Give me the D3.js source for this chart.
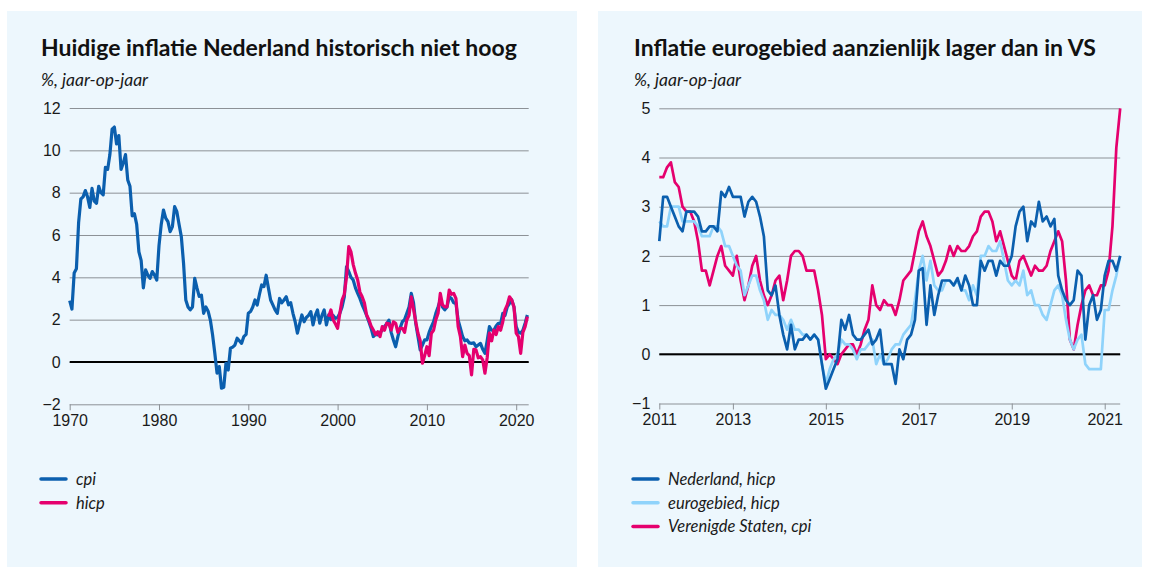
<!DOCTYPE html>
<html>
<head>
<meta charset="utf-8">
<script src="https://cdn.jsdelivr.net/npm/d3@7"></script>
<style>
  body { margin: 0; background: #fff; }
  svg { display: block; font-family: Lato, "Open Sans", sans-serif; }
  .grid line { stroke: #8c9196; stroke-width: 1; }
  .grid text, .xaxis text { fill: #1a1a1a; font-size: 16px; }
  .xaxis line { stroke: #8c9196; }
</style>
</head>
<body>
<svg width="1151" height="569"></svg>
<script>
// linker grafiek: kwartaalwaarden vanaf 1970
var cpiStart = 1970;
var cpi = [
  2.9, 2.5, 4.2, 4.4,   6.6, 7.7, 7.8, 8.1,   7.8, 7.3, 8.2, 7.6,   7.5, 8.3, 8.0, 7.9,
  9.2, 9.1, 9.8, 11.0,  11.1, 10.3, 10.7, 9.1, 9.4, 9.8, 8.6, 8.3,  6.9, 7.0, 6.5, 5.2,
  4.8, 3.5, 4.35, 4.1,  3.95, 4.27, 4.1, 3.87, 5.5, 6.5, 7.18, 6.8, 6.63, 6.16, 6.4, 7.34,
  7.1, 6.5, 5.92, 4.66, 2.93, 2.6, 2.46, 2.6, 3.95, 3.5, 3.1, 3.16, 2.3, 2.6, 2.4, 1.98,
  1.28, 0.41, -0.53, -0.22, -1.24, -1.2, -0.06, -0.38, 0.65, 0.7, 0.8, 1.12, 1.0, 0.88, 1.2, 1.3,
  2.3, 2.38, 2.6, 2.93, 2.69, 3.2, 3.64, 3.56, 4.1, 3.5, 2.93, 2.7, 2.46, 2.3, 3.0, 2.8,
  2.93, 3.08, 2.7, 2.8, 2.3, 1.9, 1.36, 1.8,  2.22, 1.9, 2.1, 2.2,  2.38, 1.75, 2.2, 2.46,
  1.83, 2.2, 2.46, 1.75, 2.22, 2.0, 2.2, 2.06, 2.1, 2.3, 2.6, 3.08, 4.5, 4.27, 4.0, 3.87,
  3.5, 3.24, 3.0, 2.7,  2.46, 2.2, 1.9, 1.6,  1.2, 1.3, 1.28, 1.4,  1.5, 1.67, 1.8, 1.98,
  1.4, 1.04, 0.72, 1.2, 1.6, 1.9, 2.0, 2.3,   2.6, 3.24, 2.8, 1.83,  1.2, 0.57, 0.8, 1.04,
  1.04, 1.4, 1.67, 1.9, 2.3, 2.6, 2.93, 2.6,  2.46, 2.6, 3.08, 3.0,  2.8, 2.77, 1.98, 1.6,
  1.2, 1.0, 1.04, 0.9,  0.88, 0.9, 0.72, 0.8, 0.88, 0.6, 0.41, 1.0,  1.67, 1.5, 1.5, 1.7,
  1.83, 1.8, 2.3, 2.2,  2.6, 2.77, 2.93, 2.6, 1.67, 1.4, 1.36, 1.5,  1.83, 2.22
];
var hicpStart = 1999;
var hicp = [
  2.14, 2.46, 2.0, 1.8,  1.59, 2.3, 2.93, 3.2,  4.03, 5.45, 5.2, 4.6,  4.2, 3.87, 3.3, 3.08,
  2.8, 2.22, 2.0, 1.7,   1.51, 1.3, 1.43, 1.2,  1.67, 1.5, 1.83, 1.8,  1.51, 1.9, 1.83, 1.4,
  1.59, 1.59, 1.4, 1.98, 2.2, 3.08, 2.5, 1.9,  1.36, 1.0, -0.06, 0.3, 0.72, 0.3, 1.36, 1.5,
  2.0, 2.3, 3.24, 2.7,   2.6, 2.6, 3.4, 3.2,    3.24, 3.0, 1.67, 1.2,  0.25, 0.8, 0.41, 0.3,
  -0.61, 0.6, 0.57, 0.2, 0.25, 0.1, -0.53, 0.2, 1.36, 1.0, 1.51, 1.3,  1.67, 1.5, 1.9, 2.46,
  2.7, 3.08, 2.93, 2.6,  1.36, 1.2, 0.41, 1.4,  1.67, 2.14
];
var leftTicksX = [1970, 1980, 1990, 2000, 2010, 2020];
var leftTicksY = [-2, 0, 2, 4, 6, 8, 10, 12];

// rechter grafiek: maandwaarden juni 2011 - mei 2021
var monthStart = 2011 + 5 / 12;
var nlHicp = [
  2.3, 3.2, 3.2, 3.0, 2.8, 2.6, 2.5,
  2.9, 2.9, 2.9, 2.8, 2.5, 2.5, 2.6, 2.6, 2.5, 3.3, 3.2, 3.4,
  3.2, 3.2, 3.2, 2.8, 3.1, 3.2, 3.1, 2.8, 2.4, 1.3, 1.2, 1.4,
  0.8, 0.4, 0.1, 0.6, 0.1, 0.3, 0.3, 0.4, 0.3, 0.4, 0.3, -0.2,
  -0.7, -0.5, -0.3, -0.1, 0.7, 0.5, 0.8, 0.4, 0.3, 0.3, 0.4, 0.5,
  0.2, 0.3, 0.5, -0.2, -0.2, -0.2, -0.6, 0.1, -0.1, 0.3, 0.4, 0.7,
  1.7, 1.75, 0.6, 1.4, 0.8, 1.2, 1.5, 1.5, 1.5, 1.4, 1.55, 1.3,
  1.6, 1.4, 1.0, 1.0, 1.9, 1.7, 1.9, 1.9, 1.6, 1.9, 1.8, 1.8,
  2.0, 2.6, 2.9, 3.0, 2.3, 2.7, 2.6, 3.1, 2.7, 2.8, 2.6, 2.75,
  1.6, 1.3, 1.1, 1.0, 1.1, 1.7, 1.6, 0.3, 1.0, 1.2, 0.7, 0.9,
  1.6, 1.9, 1.9, 1.7, 2.0
];
var euroHicp = [
  2.7, 2.6, 2.6, 3.0, 3.0, 3.0, 2.7,
  2.7, 2.7, 2.7, 2.6, 2.4, 2.4, 2.4, 2.6, 2.6, 2.5, 2.2, 2.2,
  2.0, 1.8, 1.7, 1.2, 1.4, 1.6, 1.6, 1.3, 1.1, 0.7, 0.9, 0.8,
  0.8, 0.7, 0.5, 0.7, 0.5, 0.5, 0.4, 0.4, 0.3, 0.4, 0.3, -0.2,
  -0.6, -0.3, -0.1, 0.0, 0.3, 0.2, 0.2, 0.1, -0.1, 0.1, 0.1, 0.2,
  0.3, -0.2, 0.0, -0.2, -0.1, 0.1, 0.2, 0.2, 0.4, 0.5, 0.6, 1.1,
  1.7, 2.0, 1.5, 1.9, 1.4, 1.3, 1.3, 1.5, 1.5, 1.4, 1.5, 1.3,
  1.3, 1.1, 1.4, 1.2, 2.0, 2.0, 2.2, 2.1, 2.1, 2.3, 1.9, 1.5,
  1.4, 1.5, 1.4, 1.7, 1.2, 1.3, 1.0, 1.0, 0.8, 0.7, 1.0, 1.3,
  1.4, 1.2, 0.7, 0.3, 0.1, 0.3, 0.4, -0.2, -0.3, -0.3, -0.3, -0.3,
  0.9, 0.9, 1.3, 1.6, 2.0
];
var usCpi = [
  3.6, 3.6, 3.8, 3.9, 3.5, 3.4, 3.0,
  2.9, 2.9, 2.7, 2.3, 1.7, 1.7, 1.4, 1.7, 2.0, 2.2, 1.8, 1.7,
  1.6, 2.0, 1.5, 1.1, 1.4, 1.8, 2.0, 1.5, 1.2, 1.0, 1.2, 1.5,
  1.6, 1.1, 1.5, 2.0, 2.1, 2.1, 2.0, 1.7, 1.7, 1.7, 1.3, 0.8,
  -0.1, 0.0, -0.1, -0.2, 0.0, 0.1, 0.2, 0.2, 0.0, 0.2, 0.5, 0.7,
  1.4, 1.0, 0.9, 1.1, 1.0, 1.0, 0.8, 1.1, 1.5, 1.6, 1.7, 2.1,
  2.5, 2.7, 2.4, 2.2, 1.9, 1.6, 1.7, 1.9, 2.2, 2.0, 2.2, 2.1,
  2.1, 2.2, 2.4, 2.5, 2.8, 2.9, 2.9, 2.7, 2.3, 2.5, 2.2, 1.9,
  1.6, 1.5, 1.9, 2.0, 1.8, 1.6, 1.8, 1.7, 1.7, 1.8, 2.1, 2.3,
  2.5, 2.3, 1.5, 0.3, 0.1, 0.6, 1.0, 1.3, 1.4, 1.2, 1.2, 1.4,
  1.4, 1.7, 2.6, 4.2, 5.0
];
var rightTicksX = [2011, 2013, 2015, 2017, 2019, 2021];
var rightTicksY = [-1, 0, 1, 2, 3, 4, 5];

var blue = "#0b5fae", pink = "#e5006e", lightBlue = "#8fd3fb";

var svg = d3.select("svg");

function panel(opt) {
  svg.append("rect")
    .attr("x", opt.x0).attr("y", 11)
    .attr("width", opt.w).attr("height", 556)
    .attr("fill", "#edf7fd");

  svg.append("text")
    .attr("x", opt.textX).attr("y", 56)
    .attr("font-size", 23).attr("font-weight", "bold").attr("fill", "#111")
    .text(opt.title);
  svg.append("text")
    .attr("x", opt.textX).attr("y", 86)
    .attr("font-size", 17.5).attr("font-style", "italic").attr("fill", "#1a1a1a")
    .text("%, jaar-op-jaar");

  var x = opt.x, y = opt.y;
  var left = x.range()[0], right = x.range()[1];

  var gy = svg.append("g")
    .attr("class", "grid")
    .attr("transform", "translate(" + left + ",0)")
    .call(d3.axisLeft(y).tickValues(opt.yTicks).tickSize(-(right - left)).tickPadding(9).tickFormat(d3.format("d")));
  gy.select(".domain").remove();

  var gx = svg.append("g")
    .attr("class", "xaxis")
    .attr("transform", "translate(0," + y.range()[0] + ")")
    .call(d3.axisBottom(x)
      .tickValues(opt.xTicks.map(function (d) { return Math.max(d, x.domain()[0]); }))
      .tickSize(6).tickPadding(4)
      .tickFormat(function (d) { return String(Math.round(d)); }));
  gx.select(".domain").remove();

  svg.append("line")
    .attr("x1", left).attr("x2", right)
    .attr("y1", y(0)).attr("y2", y(0))
    .attr("stroke", "#000").attr("stroke-width", 2);

  opt.series.forEach(function (s) {
    var line = d3.line()
      .x(function (d, i) { return x(s.start + i * s.step); })
      .y(function (d) { return y(d); });
    svg.append("path")
      .datum(s.values)
      .attr("fill", "none")
      .attr("stroke", s.color)
      .attr("stroke-width", opt.lineWidth)
      .attr("stroke-linejoin", "round")
      .attr("d", line);
  });

  var lg = svg.append("g");
  opt.legend.forEach(function (s, i) {
    var ly = 479 + i * 23.7;
    lg.append("line")
      .attr("x1", opt.legendX).attr("x2", opt.legendX + 25)
      .attr("y1", ly).attr("y2", ly)
      .attr("stroke", s.color).attr("stroke-width", 3.5).attr("stroke-linecap", "round");
    lg.append("text")
      .attr("x", opt.legendX + 35).attr("y", ly + 6)
      .attr("font-size", 16.5).attr("font-style", "italic").attr("fill", "#1a1a1a")
      .text(s.name);
  });
}

var xLeft = d3.scaleLinear().domain([1970, 2021.4]).range([69.7, 528.7]);
var yLeft = d3.scaleLinear().domain([-2, 12]).range([404.3, 108]);

panel({
  x0: 7, w: 570, textX: 41, legendX: 41,
  title: "Huidige inflatie Nederland historisch niet hoog",
  x: xLeft, y: yLeft, xTicks: leftTicksX, yTicks: leftTicksY, lineWidth: 3.2,
  series: [
    {values: cpi, start: cpiStart, step: 0.25, color: blue},
    {values: hicp, start: hicpStart, step: 0.25, color: pink}
  ],
  legend: [{name: "cpi", color: blue}, {name: "hicp", color: pink}]
});

var xRight = d3.scaleLinear().domain([monthStart, monthStart + 119 / 12]).range([659.3, 1120.2]);
var yRight = d3.scaleLinear().domain([-1, 5]).range([403.5, 108.3]);

panel({
  x0: 598, w: 544, textX: 634, legendX: 633,
  title: "Inflatie eurogebied aanzienlijk lager dan in VS",
  x: xRight, y: yRight, xTicks: rightTicksX, yTicks: rightTicksY, lineWidth: 2.7,
  series: [
    {values: usCpi, start: monthStart, step: 1 / 12, color: pink},
    {values: euroHicp, start: monthStart, step: 1 / 12, color: lightBlue},
    {values: nlHicp, start: monthStart, step: 1 / 12, color: blue}
  ],
  legend: [
    {name: "Nederland, hicp", color: blue},
    {name: "eurogebied, hicp", color: lightBlue},
    {name: "Verenigde Staten, cpi", color: pink}
  ]
});
</script>
</body>
</html>
